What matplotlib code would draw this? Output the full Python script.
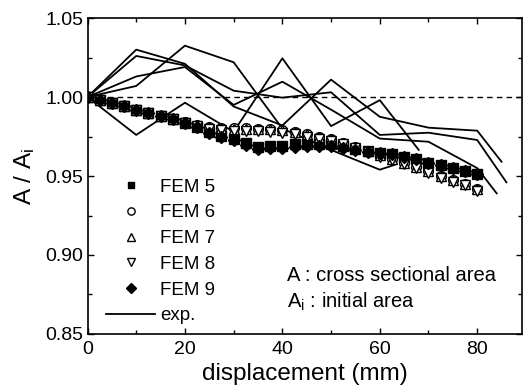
import matplotlib.pyplot as plt
from matplotlib.ticker import MultipleLocator, FormatStrFormatter

plt.rcParams['font.family'] = ['Liberation Sans', 'DejaVu Sans']
plt.rcParams['mathtext.fontset'] = 'custom'
plt.rcParams['mathtext.rm'] = 'Liberation Sans'
plt.rcParams['mathtext.it'] = 'Liberation Sans'

# FEM results, sampled every 2.5 mm
fem_x = [0, 2.5, 5, 7.5, 10, 12.5, 15, 17.5, 20, 22.5, 25, 27.5, 30, 32.5, 35, 37.5,
         40, 42.5, 45, 47.5, 50, 52.5, 55, 57.5, 60, 62.5, 65, 67.5, 70, 72.5, 75, 77.5, 80]
fem5 = [1.000, 0.998, 0.9965, 0.9945, 0.992, 0.990, 0.988, 0.986, 0.9835, 0.981, 0.978,
        0.9755, 0.9735, 0.971, 0.9685, 0.969, 0.9692, 0.970, 0.9705, 0.9705, 0.970, 0.969,
        0.967, 0.966, 0.9648, 0.964, 0.962, 0.9605, 0.958, 0.957, 0.955, 0.953, 0.951]
fem6 = [1.000, 0.998, 0.9965, 0.9945, 0.992, 0.990, 0.988, 0.986, 0.984, 0.9822, 0.9812,
        0.9807, 0.9802, 0.9802, 0.9800, 0.9796, 0.979, 0.978, 0.9765, 0.975, 0.9735, 0.971,
        0.9685, 0.966, 0.963, 0.961, 0.9585, 0.956, 0.953, 0.950, 0.9475, 0.945, 0.9418]
fem7 = [1.000, 0.998, 0.9965, 0.9945, 0.992, 0.990, 0.988, 0.986, 0.984, 0.982, 0.981,
        0.9805, 0.980, 0.980, 0.980, 0.9795, 0.979, 0.978, 0.9765, 0.975, 0.9735, 0.971,
        0.9685, 0.966, 0.963, 0.961, 0.9585, 0.956, 0.953, 0.950, 0.9475, 0.945, 0.9415]
fem8 = [1.000, 0.998, 0.9965, 0.9945, 0.992, 0.990, 0.988, 0.986, 0.9835, 0.9815, 0.980,
        0.979, 0.9785, 0.9785, 0.9785, 0.978, 0.9775, 0.9765, 0.975, 0.9735, 0.972, 0.970,
        0.9675, 0.965, 0.962, 0.960, 0.9575, 0.955, 0.952, 0.949, 0.9465, 0.944, 0.9408]
fem9 = [1.000, 0.998, 0.9965, 0.9945, 0.992, 0.990, 0.988, 0.986, 0.9835, 0.981, 0.9775,
        0.9748, 0.9725, 0.9698, 0.9672, 0.9675, 0.9678, 0.9685, 0.969, 0.969, 0.969, 0.968,
        0.9665, 0.9655, 0.9645, 0.964, 0.962, 0.9605, 0.958, 0.957, 0.955, 0.953, 0.951]

# experimental curves
exp1_x = [0, 10, 20, 30, 40, 50, 60, 70, 80, 85]
exp1_y = [1.000, 1.030, 1.021, 0.994, 0.982, 1.011, 0.9875, 0.9806, 0.9787, 0.959]
exp2_x = [0, 10, 20, 30, 40, 50, 60, 70, 80, 86]
exp2_y = [1.000, 1.026, 1.020, 1.004, 0.9996, 1.003, 0.976, 0.9774, 0.9728, 0.946]
exp3_x = [0, 10, 20, 30, 40, 50, 60, 70, 80, 84]
exp3_y = [1.000, 1.013, 1.019, 0.995, 1.0097, 0.992, 0.9737, 0.9717, 0.955, 0.939]
exp4_x = [0, 10, 20, 30, 40, 50, 60, 63]
exp4_y = [1.000, 1.007, 1.0325, 1.022, 0.980, 0.9665, 0.954, 0.957]
exp5_x = [0, 10, 20, 30, 40, 50, 60, 68]
exp5_y = [1.000, 0.976, 0.9964, 0.978, 1.0245, 0.9816, 0.998, 0.9665]

fig = plt.figure(figsize=(5.31, 3.92), dpi=100)
ax = fig.add_axes([0.1648, 0.148, 0.8183, 0.806])

ax.axhline(1.0, color='black', lw=1.0, ls=(0, (4, 3)), zorder=1)

exp_lines = [(exp1_x, exp1_y), (exp2_x, exp2_y), (exp3_x, exp3_y),
             (exp4_x, exp4_y), (exp5_x, exp5_y)]
for i, (ex, ey) in enumerate(exp_lines):
    ax.plot(ex, ey, color='black', lw=1.3, zorder=2,
            label='exp.' if i == 0 else None)

mk = dict(ls='none', color='black', mec='black', mew=1.0, zorder=3)
ax.plot(fem_x, fem5, marker='s', ms=6.5, mfc='black', label='FEM 5', **mk)
ax.plot(fem_x, fem6, marker='o', ms=7, mfc='white', label='FEM 6', **mk)
ax.plot(fem_x, fem7, marker='^', ms=7.5, mfc='white', label='FEM 7', **mk)
ax.plot(fem_x, fem8, marker='v', ms=7.5, mfc='white', label='FEM 8', **mk)
ax.plot(fem_x, fem9, marker='D', ms=6.5, mfc='black', label='FEM 9', **mk)

handles, labels = ax.get_legend_handles_labels()
order = [labels.index(l) for l in ['FEM 5', 'FEM 6', 'FEM 7', 'FEM 8', 'FEM 9', 'exp.']]
leg = ax.legend([handles[i] for i in order], [labels[i] for i in order],
                loc='upper left', bbox_to_anchor=(0.043, 0.492), frameon=False,
                fontsize=13.5, handlelength=2.6, handletextpad=0.27,
                labelspacing=0.46, borderpad=0, borderaxespad=0, markerscale=0.75)

ax.text(41, 0.8873, 'A : cross sectional area', fontsize=14.5, va='center', ha='left')
ax.text(41, 0.8703, r'A$_\mathrm{i}$ : initial area', fontsize=14.5, va='center', ha='left')

ax.set_xlim(0, 89.2)
ax.set_ylim(0.85, 1.05)
ax.xaxis.set_major_locator(MultipleLocator(20))
ax.xaxis.set_minor_locator(MultipleLocator(10))
ax.yaxis.set_major_locator(MultipleLocator(0.05))
ax.yaxis.set_minor_locator(MultipleLocator(0.025))
ax.yaxis.set_major_formatter(FormatStrFormatter('%.2f'))
ax.tick_params(which='both', direction='in', top=True, right=True, width=1.0)
ax.tick_params(which='major', length=4, labelsize=14)
ax.tick_params(which='minor', length=3)
ax.tick_params(axis='x', pad=5)
ax.tick_params(axis='y', pad=3)
for s in ax.spines.values():
    s.set_linewidth(1.2)

ax.set_xlabel('displacement (mm)', fontsize=17.5, labelpad=4)
ax.set_ylabel(r'A / A$_\mathrm{i}$', fontsize=17.5, labelpad=6)

fig.savefig('out.png', dpi=100)
